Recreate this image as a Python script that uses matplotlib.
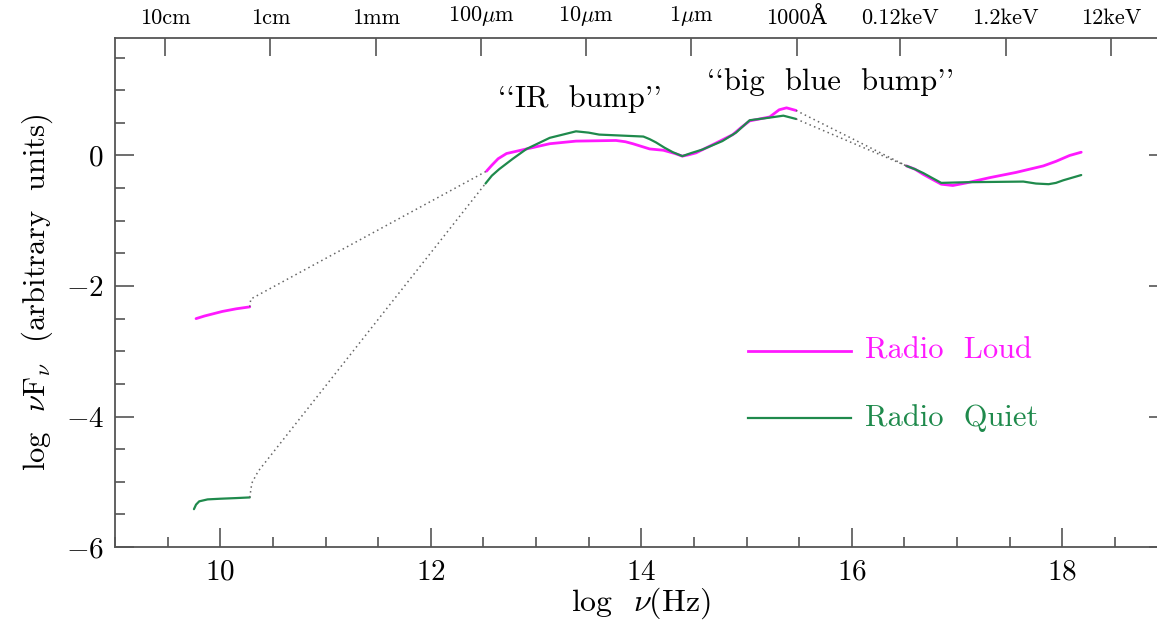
import numpy as np
import matplotlib.pyplot as plt
from matplotlib.ticker import MultipleLocator

plt.rcParams['font.family'] = ['cmr10', 'DejaVu Serif']
plt.rcParams['mathtext.fontset'] = 'cm'
plt.rcParams['axes.formatter.use_mathtext'] = True
plt.rcParams['axes.unicode_minus'] = True

# Radio Loud (magenta) segments: log nu, log nuFnu
loud_radio_x = [9.77, 9.85, 10.02, 10.15, 10.28]
loud_radio_y = [-2.50, -2.46, -2.39, -2.35, -2.32]
loud_ir_x = [12.53, 12.58, 12.64, 12.72, 12.91, 13.13, 13.38, 13.76, 13.85, 13.92, 14.08,
             14.21, 14.32, 14.39, 14.45, 14.52, 14.71, 14.87, 14.95, 15.03, 15.22, 15.31,
             15.38, 15.47]
loud_ir_y = [-0.24, -0.15, -0.05, 0.03, 0.10, 0.18, 0.22, 0.23, 0.21, 0.18, 0.10,
             0.08, 0.03, -0.01, 0.01, 0.04, 0.19, 0.32, 0.43, 0.53, 0.59, 0.70,
             0.73, 0.69]
loud_x_x = [16.52, 16.60, 16.68, 16.77, 16.85, 16.96, 17.09, 17.31, 17.56, 17.82, 17.94,
            18.07, 18.18]
loud_x_y = [-0.16, -0.21, -0.29, -0.37, -0.44, -0.46, -0.42, -0.34, -0.26, -0.16, -0.09,
            0.00, 0.05]

# Radio Quiet (green) segments
quiet_radio_x = [9.75, 9.77, 9.80, 9.88, 10.0, 10.15, 10.28]
quiet_radio_y = [-5.42, -5.35, -5.30, -5.27, -5.26, -5.25, -5.24]
quiet_ir_x = [12.52, 12.58, 12.65, 12.78, 12.91, 13.13, 13.38, 13.50, 13.60, 14.02, 14.08,
              14.14, 14.22, 14.30, 14.39, 14.48, 14.58, 14.77, 14.90, 15.03, 15.22, 15.35,
              15.47]
quiet_ir_y = [-0.43, -0.31, -0.21, -0.05, 0.10, 0.27, 0.37, 0.35, 0.32, 0.29, 0.25,
              0.20, 0.12, 0.05, -0.01, 0.04, 0.09, 0.22, 0.35, 0.54, 0.58, 0.61,
              0.56]
quiet_x_x = [16.52, 16.60, 16.68, 16.77, 16.85, 17.09, 17.63, 17.75, 17.87, 17.94, 18.01,
             18.18]
quiet_x_y = [-0.16, -0.21, -0.27, -0.35, -0.42, -0.41, -0.40, -0.43, -0.44, -0.42, -0.38,
             -0.30]

# dotted interpolations between wavebands
loud_gap1_x = [10.28, 10.29, 12.53]
loud_gap1_y = [-2.32, -2.20, -0.24]
quiet_gap1_x = [10.28, 10.30, 10.36, 12.52]
quiet_gap1_y = [-5.24, -5.02, -4.84, -0.43]
loud_gap2_x = [15.47, 16.52]
loud_gap2_y = [0.69, -0.16]
quiet_gap2_x = [15.47, 16.52]
quiet_gap2_y = [0.56, -0.16]

# top axis: wavelengths (cm) and energies (keV)
c = 2.998e10
wave_cm = [10, 1, 0.1, 0.01, 1e-3, 1e-4, 1e-5]
wave_labels = ['10cm', '1cm', '1mm', r'100$\mu$m', r'10$\mu$m', r'1$\mu$m', '1000Å']
energy_kev = [0.12, 1.2, 12]
energy_labels = ['0.12keV', '1.2keV', '12keV']

magenta = '#ff19ff'
green = '#1f8a4c'

fig = plt.figure(figsize=(11.57, 6.2), dpi=100)
ax = fig.add_axes([0.0994, 0.1177, 0.9097, 0.8210])

for xs, ys, col, lw in [(loud_radio_x, loud_radio_y, magenta, 2.0), (loud_ir_x, loud_ir_y, magenta, 2.0),
                        (loud_x_x, loud_x_y, magenta, 2.0), (quiet_radio_x, quiet_radio_y, green, 1.6),
                        (quiet_ir_x, quiet_ir_y, green, 1.6), (quiet_x_x, quiet_x_y, green, 1.6)]:
    ax.plot(xs, ys, color=col, lw=lw, solid_capstyle='round', solid_joinstyle='round')

for xs, ys in [(loud_gap1_x, loud_gap1_y), (quiet_gap1_x, quiet_gap1_y),
               (loud_gap2_x, loud_gap2_y), (quiet_gap2_x, quiet_gap2_y)]:
    ax.plot(xs, ys, color='#666666', lw=1.1, linestyle=(0, (1, 2.2)))

# legend drawn by hand
ax.plot([15.01, 15.99], [-3.0, -3.0], color=magenta, lw=2.0)
ax.plot([15.01, 15.99], [-4.02, -4.02], color=green, lw=1.6)
ax.text(16.13, -3.0, 'Radio  Loud', color=magenta, fontsize=22, va='center')
ax.text(16.13, -4.02, 'Radio  Quiet', color=green, fontsize=22, va='center')

ax.text(13.42, 0.86, "``IR  bump''", fontsize=22, ha='center', va='center')
ax.text(15.80, 1.12, "``big  blue  bump''", fontsize=22, ha='center', va='center')

ax.set_xlim(9, 19)
ax.set_ylim(-6, 1.8)
ax.xaxis.set_major_locator(MultipleLocator(2))
ax.xaxis.set_minor_locator(MultipleLocator(0.5))
ax.yaxis.set_major_locator(MultipleLocator(2))
ax.yaxis.set_minor_locator(MultipleLocator(0.5))
ax.tick_params(which='both', direction='in', top=False, right=True, labelsize=21, color='#555555')
ax.tick_params(which='major', length=14, width=1.2)
ax.tick_params(which='minor', length=7, width=1.2)
ax.tick_params(axis='x', pad=9)
ax.tick_params(axis='y', pad=8)
for s in ax.spines.values():
    s.set_color('#555555')
    s.set_linewidth(1.3)

ax.set_xlabel(r'log  $\nu$(Hz)', fontsize=23, labelpad=0)
ax.set_ylabel(r'log  $\nu$F$_\nu$  (arbitrary  units)', fontsize=22, labelpad=8)

top = ax.twiny()
top.set_xlim(ax.get_xlim())
top_pos = list(np.log10(c / np.array(wave_cm))) + list(np.log10(np.array(energy_kev) * 2.418e17))
top.set_xticks(top_pos)
top.set_xticklabels(wave_labels + energy_labels, fontsize=16)
top.tick_params(direction='in', length=13, width=1.2, color='#555555', pad=7)
for s in top.spines.values():
    s.set_visible(False)

fig.savefig('out.png', dpi=100)
